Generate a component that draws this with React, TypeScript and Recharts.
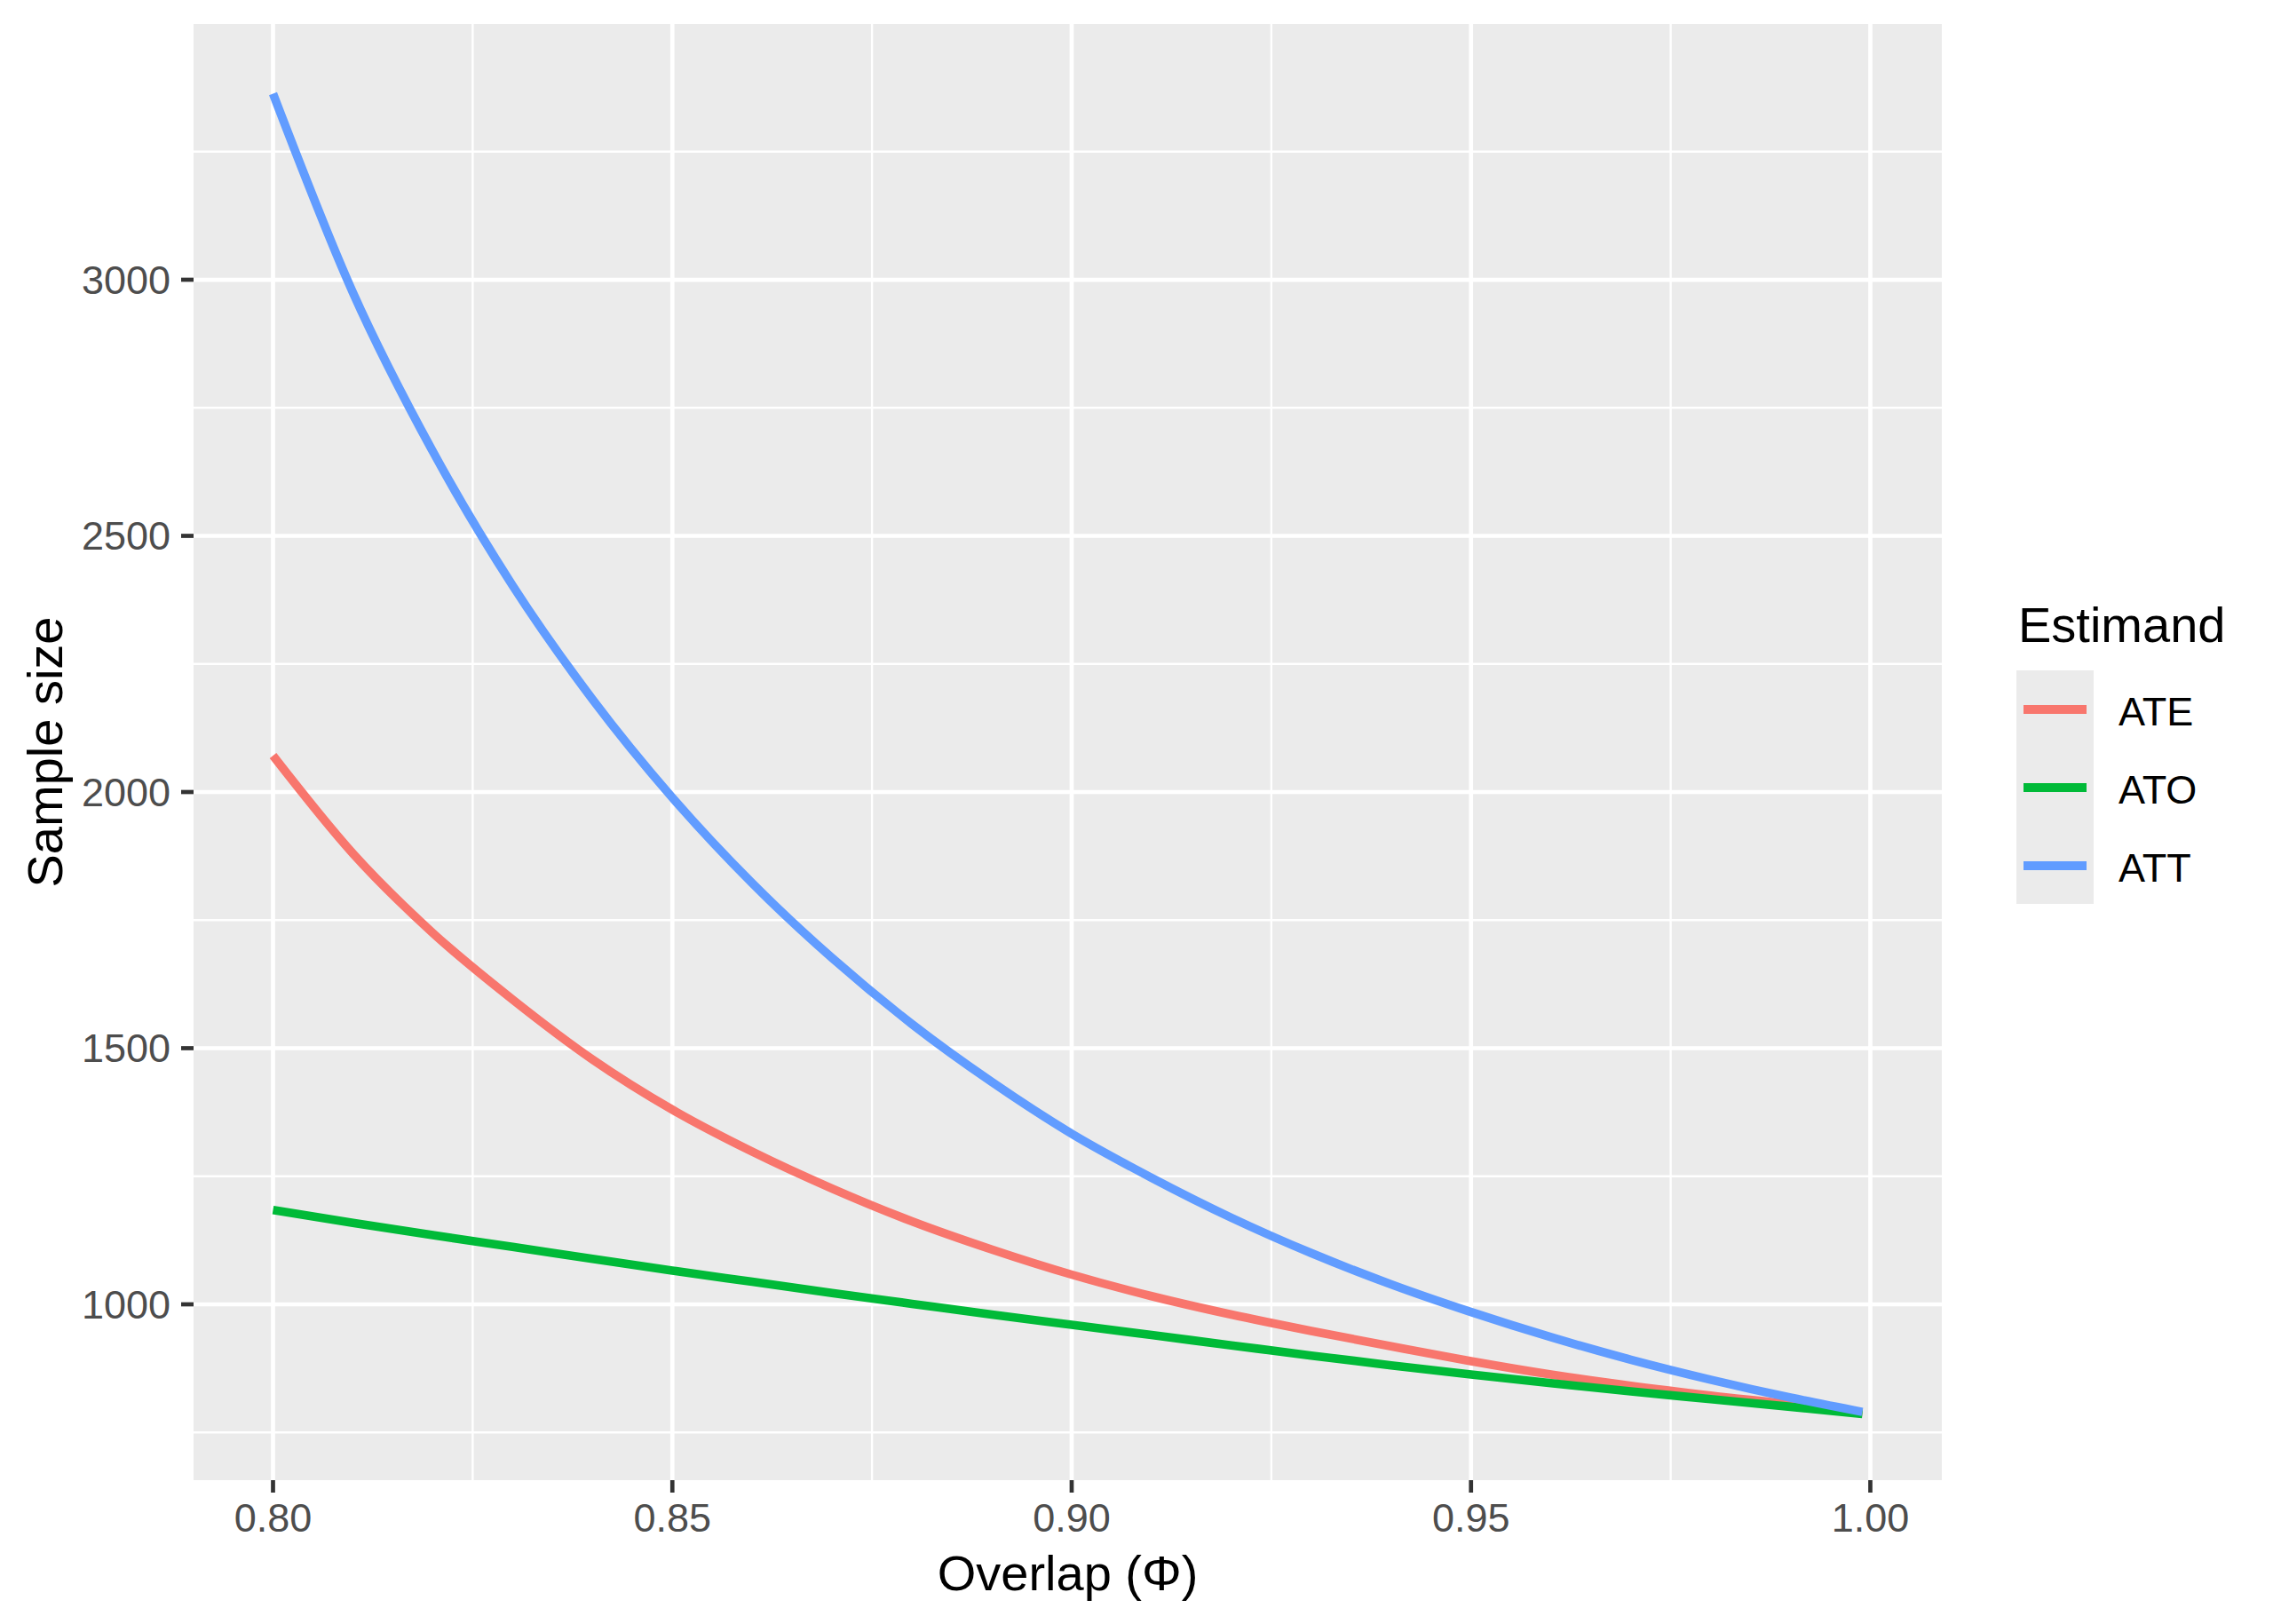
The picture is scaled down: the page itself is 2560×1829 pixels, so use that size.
import React from 'react';
import { LineChart, Line, XAxis, YAxis, CartesianGrid, Legend, Label } from 'recharts';

// overlap values (x) and sample sizes
const overlap = [0.80, 0.81, 0.82, 0.83, 0.84, 0.85, 0.86, 0.87, 0.88, 0.89, 0.90, 0.91, 0.92, 0.93, 0.94, 0.95, 0.96, 0.97, 0.98, 0.99, 0.999];
const ate = [2071, 1880, 1725, 1595, 1478, 1380, 1298, 1226, 1162, 1107, 1058, 1016, 980, 948, 918, 889, 863, 841, 822, 805, 787];
const ato = [1184, 1159, 1135, 1112, 1089, 1066, 1044, 1022, 1001, 980, 960, 940, 920, 900, 881, 863, 846, 830, 815, 800, 786];
const att = [3363, 2975, 2665, 2403, 2181, 1989, 1822, 1676, 1547, 1434, 1333, 1247, 1169, 1100, 1039, 985, 936, 892, 853, 818, 790];

const xTicks = [0.8, 0.85, 0.9, 0.95, 1.0];
const xMinor = [0.825, 0.875, 0.925, 0.975];
const yTicks = [1000, 1500, 2000, 2500, 3000];
const yMinor = [750, 1250, 1750, 2250, 2750, 3250];

const seriesNames = ['ATE', 'ATO', 'ATT'];
const seriesColors = ['#F8766D', '#00BA38', '#619CFF'];

const data = overlap.map((x, i) => ({ x, ATE: ate[i], ATO: ato[i], ATT: att[i] }));

const FONT = '"Liberation Sans", Arial, sans-serif';

const LegendBox = () => (
  <svg width={373} height={400} style={{ display: 'block' }}>
    <text x={86} y={73} fontSize={56} fontFamily={FONT} fill="#000000">Estimand</text>
    <rect x={84} y={105} width={87} height={263} fill="#EBEBEB" />
    {seriesNames.map((name, i) => (
      <g key={name}>
        <line x1={92} x2={163} y1={149 + i * 88} y2={149 + i * 88} stroke={seriesColors[i]} strokeWidth={10} />
        <text x={199} y={167 + i * 88} fontSize={45} fontFamily={FONT} fill="#000000">{name}</text>
      </g>
    ))}
  </svg>
);

const XTitle = (props: any) => {
  const { viewBox } = props;
  return (
    <text x={viewBox.x + viewBox.width / 2} y={1791} textAnchor="middle" fontSize={56} fontFamily={FONT} fill="#000000">
      Overlap (Φ)
    </text>
  );
};

const YTitle = (props: any) => {
  const { viewBox } = props;
  const cy = viewBox.y + viewBox.height / 2;
  return (
    <text x={70} y={cy} transform={`rotate(-90, 70, ${cy})`} textAnchor="middle" fontSize={56} fontFamily={FONT} fill="#000000">
      Sample size
    </text>
  );
};

export default function App() {
  const tickStyle = { fill: '#4D4D4D', fontSize: 45, fontFamily: FONT };
  const tickLine = { stroke: '#333333', strokeWidth: 4.7 };
  return (
    <div style={{ position: 'absolute', left: 0, top: 0, width: 2560, height: 1829, background: '#FFFFFF' }}>
      <LineChart width={2560} height={1829} data={data} margin={{ top: 27, right: 0, bottom: 0, left: 0 }}>
        <CartesianGrid fill="#EBEBEB" fillOpacity={1} stroke="#FFFFFF" strokeWidth={2.35} horizontalValues={yMinor} verticalValues={xMinor} />
        <CartesianGrid stroke="#FFFFFF" strokeWidth={4.7} horizontalValues={yTicks} verticalValues={xTicks} />
        <XAxis
          dataKey="x"
          type="number"
          domain={[0.79005, 1.00895]}
          allowDataOverflow
          ticks={xTicks}
          tickFormatter={(v: number) => v.toFixed(2)}
          height={162}
          axisLine={false}
          tickLine={tickLine}
          tickSize={14}
          tickMargin={12}
          tick={tickStyle}
        >
          <Label content={<XTitle />} />
        </XAxis>
        <YAxis
          type="number"
          domain={[656.8, 3499.2]}
          allowDataOverflow
          ticks={yTicks}
          width={218}
          axisLine={false}
          tickLine={tickLine}
          tickSize={14}
          tickMargin={12}
          tick={tickStyle}
        >
          <Label content={<YTitle />} />
        </YAxis>
        <Legend
          layout="vertical"
          align="right"
          verticalAlign="top"
          content={() => <LegendBox />}
          wrapperStyle={{ top: 650, right: 0, width: 373 }}
        />
        {seriesNames.map((name, i) => (
          <Line
            key={name}
            dataKey={name}
            type="monotone"
            stroke={seriesColors[i]}
            strokeWidth={9.6}
            dot={false}
            activeDot={false}
            isAnimationActive={false}
          />
        ))}
      </LineChart>
    </div>
  );
}
